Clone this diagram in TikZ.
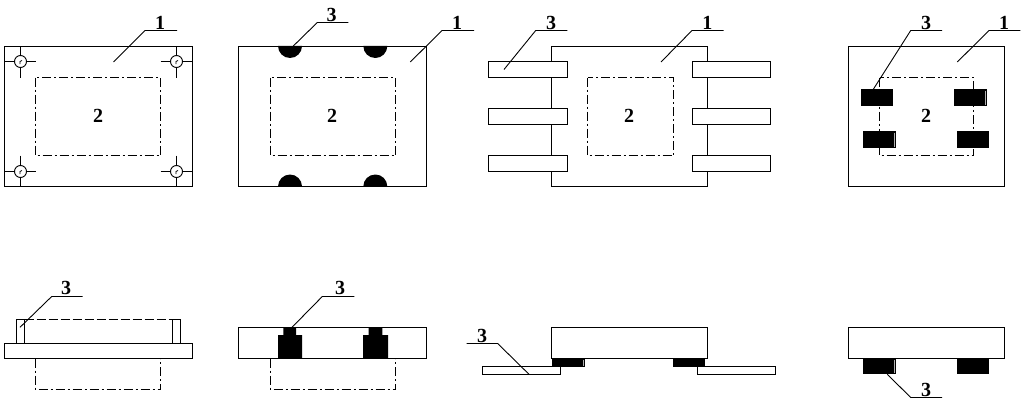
\documentclass[tikz,border=0pt]{standalone}
\usepackage{fontspec}
\setmainfont{Liberation Serif}
\tikzset{
  line/.style={draw=black,line width=1.1pt},
  hid/.style={draw=black,line width=1pt,dash pattern=on 9pt off 3pt on 2pt off 3pt},
  hiddash/.style={draw=black,line width=1pt,dash pattern=on 9pt off 3pt},
  lead/.style={draw=black,line width=0.9pt},
  solid pad/.style={fill=black,draw=none},
  sliver/.style={draw=black!30,line width=0.7pt},
  tag/.style={font=\bfseries\fontsize{20}{20}\selectfont,inner sep=0pt,anchor=center},
}
\begin{document}
\begin{tikzpicture}[x=1pt,y=-1pt]
\useasboundingbox (0,0) rectangle (1024,404);
\fill[white] (0,0) rectangle (1024,404);

% ---- top row, figure 1
\draw[line] (4.5,46.5) rectangle (192.5,186.5);
\draw[hid] (35.5,77.5) rectangle (160.5,155.5);
\foreach \cx/\cy/\xa/\xb/\ya/\yb in {20.5/61.5/4.5/35.5/46.5/77.5, 176.5/61.5/160.5/192.5/46.5/77.5, 20.5/171.5/4.5/35.5/155.5/186.5, 176.5/171.5/160.5/192.5/155.5/186.5}{
  \draw[lead] (\xa,\cy) -- (\xb,\cy);
  \draw[lead] (\cx,\ya) -- (\cx,\yb);
  \draw[lead,fill=white] (\cx,\cy) circle (6);
  \draw[black,line width=0.8pt] (\cx-0.5,\cy+2.5) -- (\cx-0.5,\cy) -- (\cx+1.5,\cy-1);
}
\node[tag] (a1) at (160,22.5) {1};
\node[tag] (a2) at (98,115.5) {2};
\coordinate (a1e) at (113.5,62);
\draw[lead] (a1e) -- (145,30.5) -- (177,30.5);

% ---- top row, figure 2
\draw[line] (238.5,46.5) rectangle (426.5,186.5);
\draw[hid] (270.5,77.5) rectangle (395.5,155.5);
\foreach \cx in {290,375.3}{
  \fill[solid pad] (\cx-12,46) arc[start angle=180,end angle=0,radius=12] -- cycle;
  \fill[solid pad] (\cx-12,186.5) arc[start angle=180,end angle=360,radius=12] -- cycle;
}
\node[tag] (b3) at (331.7,14.5) {3};
\node[tag] (b1) at (457,22.5) {1};
\node[tag] (b2) at (332,115.5) {2};
\coordinate (b3e) at (293.3,46);
\coordinate (b1e) at (410.3,62);
\draw[lead] (b3e) -- (317.3,22.5) -- (348.3,22.5);
\draw[lead] (b1e) -- (442,30.5) -- (474,30.5);

% ---- top row, figure 3
\draw[line] (551.5,46.5) rectangle (707.5,186.5);
\draw[hid] (587.5,77.5) rectangle (673.5,155.5);
\foreach \ya/\yb in {61.5/77.5,108.5/124.5,155.5/171.5}{
  \draw[line,fill=white] (488.5,\ya) rectangle (567.5,\yb);
  \draw[line,fill=white] (692.5,\ya) rectangle (770.5,\yb);
}
\node[tag] (c3) at (551,22.5) {3};
\node[tag] (c1) at (707.3,22.5) {1};
\node[tag] (c2) at (629,115.5) {2};
\coordinate (c3e) at (504,69.5);
\coordinate (c1e) at (661,62);
\draw[lead] (c3e) -- (535.7,30.5) -- (567.3,30.5);
\draw[lead] (c1e) -- (692,30.5) -- (723.7,30.5);

% ---- top row, figure 4
\draw[line] (848.5,46.5) rectangle (1004.5,186.5);
\draw[hid] (879.5,77.5) rectangle (973.5,155.5);
\fill[solid pad] (860.7,89.3) rectangle (892.7,106);
\fill[solid pad] (954,89.3) rectangle (986.7,106);
\fill[solid pad] (863,131.3) rectangle (895.7,148);
\fill[solid pad] (957,131.3) rectangle (989,148);
\draw[sliver] (985.2,90.5) -- (985.2,105);
\draw[sliver] (894.2,132.5) -- (894.2,147);
\node[tag] (d3) at (926,22.5) {3};
\node[tag] (d1) at (1004,22.5) {1};
\node[tag] (d2) at (926,115.5) {2};
\coordinate (d3e) at (873.3,89.3);
\coordinate (d1e) at (957.3,62);
\draw[lead] (d3e) -- (910.7,30.5) -- (942,30.5);
\draw[lead] (d1e) -- (989,30.5) -- (1020.3,30.5);

% ---- bottom row, figure 1
\draw[hiddash] (24.5,319.5) -- (172.5,319.5);
\draw[line] (16.5,319.5) rectangle (24.5,343.5);
\draw[line] (172.5,319.5) rectangle (180.5,343.5);
\draw[line] (4.5,343.5) rectangle (192.5,358.5);
\draw[hid] (35.5,358.5) -- (35.5,389.5) -- (160.5,389.5) -- (160.5,358.5);
\node[tag] (e3) at (66,287.5) {3};
\coordinate (e3e) at (20,327.3);
\draw[lead] (e3e) -- (51.7,296.5) -- (82.7,296.5);

% ---- bottom row, figure 2
\draw[line] (238.5,327.5) rectangle (426.5,358.5);
\fill[solid pad] (278,358.8) -- (278,335) -- (283.3,335) -- (283.3,327.3) -- (296,327.3) -- (296,335) -- (302,335) -- (302,358.8) -- cycle;
\fill[solid pad] (363,358.8) -- (363,335) -- (368.7,335) -- (368.7,327.3) -- (382.3,327.3) -- (382.3,335) -- (388,335) -- (388,358.8) -- cycle;
\draw[hid] (270.5,358.5) -- (270.5,389.5) -- (395.5,389.5) -- (395.5,358.5);
\node[tag] (f3) at (340,287.5) {3};
\coordinate (f3e) at (292,327.3);
\draw[lead] (f3e) -- (322.3,296.5) -- (354.3,296.5);

% ---- bottom row, figure 3
\fill[solid pad] (552,358.3) rectangle (584.5,366.7);
\fill[solid pad] (673.3,358.3) rectangle (705,366.7);
\draw[sliver] (583,359.5) -- (583,365.5);
\draw[line] (551.5,327.5) rectangle (707.5,358.5);
\draw[line,fill=white] (482.5,366.5) rectangle (560.5,374.5);
\draw[line,fill=white] (697.5,366.5) rectangle (775.5,374.5);
\node[tag] (g3) at (482,335.5) {3};
\coordinate (g3e) at (529,374.3);
\draw[lead] (g3e) -- (497.7,343.5) -- (466.7,343.5);

% ---- bottom row, figure 4
\fill[solid pad] (863,358.3) rectangle (895.7,374.3);
\fill[solid pad] (957,358.3) rectangle (989,374.3);
\draw[sliver] (894.2,359.5) -- (894.2,373);
\draw[line] (848.5,327.5) rectangle (1004.5,358.5);
\node[tag] (h3) at (926,389.5) {3};
\coordinate (h3e) at (887.3,374.3);
\draw[lead] (h3e) -- (910.7,397.5) -- (942,397.5);
\end{tikzpicture}
\end{document}
